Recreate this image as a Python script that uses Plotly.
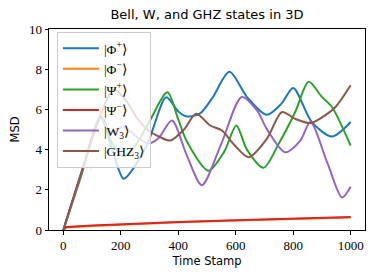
import plotly.graph_objects as go

# ---- data ----
phi_plus_x = [0, 60, 130, 170, 210, 250, 296, 358, 400, 430, 476, 520, 578, 640, 708, 760, 800, 865, 935, 1000]
phi_plus_y = [0, 2.7, 5.6, 4.0, 2.55, 3.2, 4.4, 6.6, 5.9, 5.65, 5.8, 6.6, 7.87, 6.6, 5.73, 6.3, 7.07, 5.37, 4.65, 5.37]

phi_minus_x = [0, 10, 100, 200, 400, 600, 800, 1000]
phi_minus_y = [0, 0.13, 0.20, 0.27, 0.38, 0.47, 0.55, 0.62]

psi_plus_x = [0, 60, 130, 170, 210, 250, 296, 362, 400, 430, 505, 560, 602, 639, 697, 750, 807, 854, 900, 935, 1000]
psi_plus_y = [0, 2.6, 5.6, 4.3, 3.65, 4.2, 5.3, 6.85, 5.5, 4.4, 2.95, 3.9, 5.2, 4.0, 3.1, 4.3, 5.87, 7.37, 6.62, 6.12, 4.2]

psi_minus_x = [0, 10, 100, 200, 400, 600, 800, 1000]
psi_minus_y = [0, 0.15, 0.22, 0.29, 0.40, 0.49, 0.57, 0.65]

w3_x = [0, 60, 130, 165, 210, 250, 295, 330, 378, 430, 482, 550, 621, 674, 708, 772, 825, 860, 920, 970, 1000]
w3_y = [0, 2.7, 5.65, 4.85, 5.15, 4.7, 4.3, 4.55, 5.45, 3.7, 2.23, 4.3, 6.62, 5.95, 5.03, 3.87, 4.45, 5.37, 3.3, 1.62, 2.15]

ghz3_x = [0, 60, 130, 175, 220, 260, 296, 337, 372, 420, 462, 511, 552, 592, 645, 708, 761, 807, 860, 900, 947, 1000]
ghz3_y = [0, 2.75, 5.75, 7.0, 6.4, 5.5, 4.95, 4.62, 4.45, 5.0, 5.78, 5.2, 4.95, 4.28, 3.62, 4.53, 5.87, 5.53, 5.32, 5.6, 6.12, 7.2]

x_ticks = [0, 200, 400, 600, 800, 1000]
y_ticks = [0, 2, 4, 6, 8, 10]

series = [
    ("|Φ<sup>+</sup>⟩", phi_plus_x, phi_plus_y, "#1f77b4", "spline"),
    ("|Φ<sup>−</sup>⟩", phi_minus_x, phi_minus_y, "#ff7f0e", "linear"),
    ("|Ψ<sup>+</sup>⟩", psi_plus_x, psi_plus_y, "#2ca02c", "spline"),
    ("|Ψ<sup>−</sup>⟩", psi_minus_x, psi_minus_y, "#d62728", "linear"),
    ("|W<sub>3</sub>⟩", w3_x, w3_y, "#9467bd", "spline"),
    ("|GHZ<sub>3</sub>⟩", ghz3_x, ghz3_y, "#8c564b", "spline"),
]

fig = go.Figure()
for name, xs, ys, color, shape in series:
    fig.add_trace(go.Scatter(
        x=xs, y=ys, mode="lines", name=name,
        line=dict(color=color, width=2, shape=shape, smoothing=0.8),
    ))

axis_common = dict(
    showline=True, mirror=True, linecolor="black", linewidth=1,
    ticks="outside", ticklen=3.5, tickwidth=1, tickcolor="black",
    showgrid=False, zeroline=False, automargin=False,
    tickfont=dict(family="Liberation Serif", size=13, color="black"),
)

# The page body has an 8px margin, so the figure is 8px smaller and offsets reduced by 8.
FW, FH = 366, 270
L, R, T, B = 41, 9, 21, 48
fig.update_layout(
    width=FW, height=FH,
    margin=dict(l=L, r=R, t=T, b=B),
    paper_bgcolor="white", plot_bgcolor="white",
    title=dict(text="Bell, W, and GHZ states in 3D", x=(L + (FW - L - R) / 2) / FW, xanchor="center",
               y=1 - 6.5 / FH, yanchor="middle", yref="container",
               font=dict(family="DejaVu Sans", size=13, color="black"), automargin=False),
    xaxis=dict(range=[-50, 1050], tickvals=x_ticks,
               title=dict(text="Time Stamp", standoff=4,
                          font=dict(family="DejaVu Sans", size=11.5, color="black")),
               **axis_common),
    yaxis=dict(range=[0, 10], tickvals=y_ticks,
               title=dict(text="MSD", standoff=8,
                          font=dict(family="DejaVu Sans", size=11.5, color="black")),
               **axis_common),
    legend=dict(x=0.025, y=0.985, xanchor="left", yanchor="top",
                bgcolor="rgba(255,255,255,0.8)", bordercolor="#cccccc", borderwidth=1,
                font=dict(family="Liberation Serif", size=13.5, color="black"),
                itemwidth=36, tracegroupgap=0),
    showlegend=True,
)

fig.write_html("out.html")
